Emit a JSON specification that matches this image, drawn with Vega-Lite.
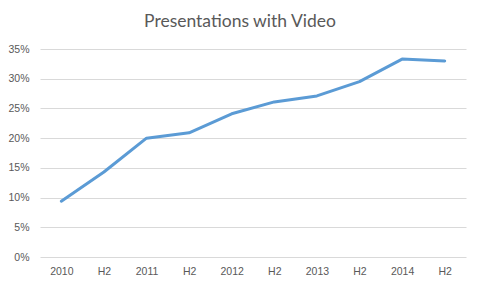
{
  "$schema": "https://vega.github.io/schema/vega-lite/v6.json",
  "width": 426,
  "height": 208,
  "autosize": "none",
  "padding": {"left": 40, "top": 49, "right": 14, "bottom": 31},
  "background": "white",
  "title": {
    "text": "Presentations with Video",
    "font": "Lato",
    "fontSize": 17.5,
    "fontWeight": "normal",
    "color": "#595959",
    "anchor": "middle",
    "dx": -13,
    "offset": 14
  },
  "data": {
    "values": [
      {"period": "2010", "share": 0.094},
      {"period": "2010 H2", "share": 0.143},
      {"period": "2011", "share": 0.200},
      {"period": "2011 H2", "share": 0.209},
      {"period": "2012", "share": 0.241},
      {"period": "2012 H2", "share": 0.261},
      {"period": "2013", "share": 0.271},
      {"period": "2013 H2", "share": 0.295},
      {"period": "2014", "share": 0.333},
      {"period": "2014 H2", "share": 0.330}
    ]
  },
  "mark": {"type": "line", "color": "#5B9BD5", "strokeWidth": 3, "strokeCap": "round", "strokeJoin": "round"},
  "encoding": {
    "x": {
      "field": "period",
      "type": "ordinal",
      "sort": null,
      "scale": {"type": "point", "padding": 0.5},
      "axis": {
        "title": null,
        "labelAngle": 0,
        "labelExpr": "length(datum.value) > 4 ? 'H2' : datum.value",
        "ticks": false,
        "domain": false,
        "grid": false,
        "labelPadding": 9,
        "labelFont": "Liberation Sans",
        "labelFontSize": 10.5,
        "labelColor": "#595959"
      }
    },
    "y": {
      "field": "share",
      "type": "quantitative",
      "scale": {"domain": [0, 0.35], "nice": false},
      "axis": {
        "title": null,
        "format": ".0%",
        "values": [0, 0.05, 0.1, 0.15, 0.2, 0.25, 0.3, 0.35],
        "ticks": false,
        "domain": false,
        "grid": true,
        "gridColor": "#D9D9D9",
        "gridWidth": 1,
        "labelPadding": 11,
        "labelFont": "Liberation Sans",
        "labelFontSize": 10.5,
        "labelColor": "#595959"
      }
    }
  },
  "config": {"view": {"stroke": null}}
}
